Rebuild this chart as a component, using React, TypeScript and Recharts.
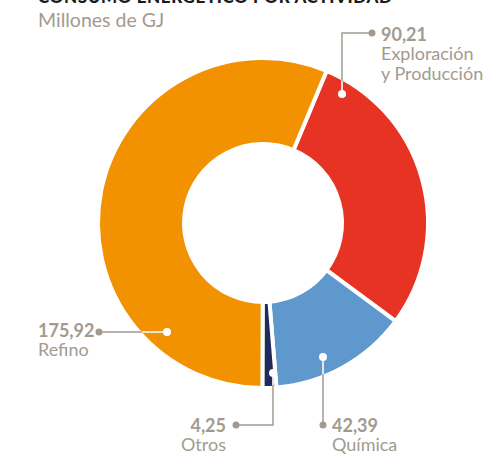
import React from "react";
import { PieChart, Pie, Cell } from "recharts";

// Consumo energético por actividad (millones de GJ)
const categories = ["Exploración y Producción", "Química", "Otros", "Refino"];
const values = [90.21, 42.39, 4.25, 175.92];
const nameLines = [["Exploración", "y Producción"], ["Química"], ["Otros"], ["Refino"]];
const colors = ["#E63323", "#5F98CD", "#1F2C5B", "#F29200"];

const data = categories.map((name, i) => ({ name, value: values[i] }));

const GREY = "#A39A8F";
const FONT = "Lato, 'Open Sans', sans-serif";

// leader line layout for each slice, offsets from the pie centre
const layouts = [
  { pts: [[79, -129], [79, -190], [109, -190]], tx: 118, ty: -182, anchor: "start" },
  { pts: [[60, 134], [60, 202]], tx: 69, ty: 209, anchor: "start" },
  { pts: [[10, 150], [10, 202], [-27, 202]], tx: -37, ty: 209, anchor: "end" },
  { pts: [[-96, 109], [-164, 109]], tx: -225, ty: 114, anchor: "start" },
];

const fmt = (v: number) => v.toFixed(2).replace(".", ",");

const renderLabel = (props: any) => {
  const { cx, cy, index, outerRadius } = props;
  const lay = layouts[index];
  if (!lay) return null;
  const pts = lay.pts.map(([x, y]) => `${cx + x},${cy + y}`).join(" ");
  const [sx, sy] = lay.pts[0];
  const [ex, ey] = lay.pts[lay.pts.length - 1];
  const clipId = `pie-clip-${index}`;
  return (
    <g key={`lab-${index}`}>
      <defs>
        <clipPath id={clipId}>
          <circle cx={cx} cy={cy} r={outerRadius - 2} />
        </clipPath>
      </defs>
      <polyline points={pts} fill="none" stroke={GREY} strokeWidth={1.5} />
      <polyline points={pts} fill="none" stroke="#fff" strokeWidth={1.5} clipPath={`url(#${clipId})`} />
      <circle cx={cx + sx} cy={cy + sy} r={4} fill="#fff" />
      <circle cx={cx + ex} cy={cy + ey} r={3.5} fill={GREY} />
      <text
        x={cx + lay.tx}
        y={cy + lay.ty}
        textAnchor={lay.anchor}
        fill={GREY}
        fontFamily={FONT}
        fontSize={18}
        fontWeight={700}
      >
        {fmt(values[index])}
      </text>
      {nameLines[index].map((line, j) => (
        <text
          key={j}
          x={cx + lay.tx}
          y={cy + lay.ty + 19 + j * 20}
          textAnchor={lay.anchor}
          fill={GREY}
          fontFamily={FONT}
          fontSize={18}
        >
          {line}
        </text>
      ))}
    </g>
  );
};

const App: React.FC = () => {
  return (
    <div style={{ position: "absolute", left: 0, top: 0, width: 496, height: 456, background: "#fff" }}>
      <PieChart width={496} height={456} margin={{ top: 0, right: 0, bottom: 0, left: 0 }}>
        <Pie
          data={data}
          dataKey="value"
          nameKey="name"
          cx={263}
          cy={223}
          innerRadius={79}
          outerRadius={165}
          startAngle={67.3}
          endAngle={-292.7}
          stroke="#fff"
          strokeWidth={4}
          label={renderLabel}
          labelLine={false}
          isAnimationActive={false}
        >
          {data.map((d, i) => (
            <Cell key={d.name} fill={colors[i]} />
          ))}
        </Pie>
      </PieChart>
      <svg
        width={496}
        height={456}
        style={{ position: "absolute", left: 0, top: 0, pointerEvents: "none" }}
      >
        <text x={38} y={3} fill="#1a1a1a" fontFamily={FONT} fontSize={17} fontWeight={900} letterSpacing={0.6}>
          CONSUMO ENERGÉTICO POR ACTIVIDAD
        </text>
        <text x={38} y={27} fill={GREY} fontFamily={FONT} fontSize={19.5}>
          Millones de GJ
        </text>
      </svg>
    </div>
  );
};

export default App;
